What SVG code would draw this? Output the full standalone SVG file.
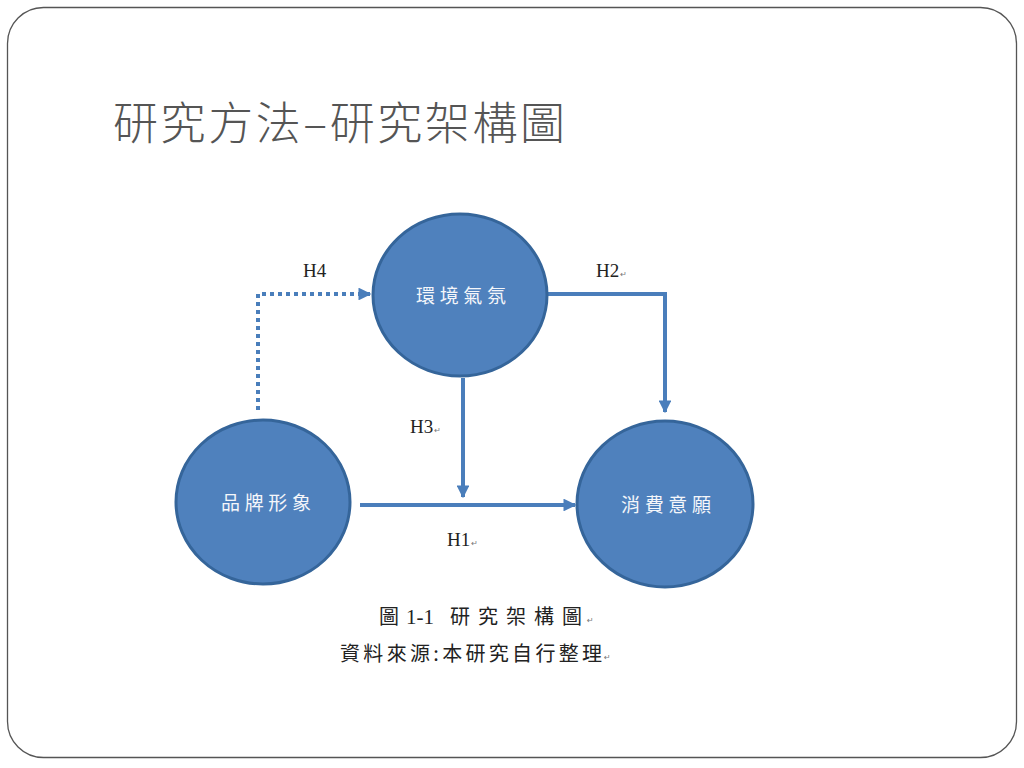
<svg xmlns="http://www.w3.org/2000/svg" width="1024" height="768" viewBox="0 0 1024 768">
<defs>
<style>
.node{fill:#4f81bd;stroke:#35659a;stroke-width:3}
.ntext{font-family:"Noto Sans CJK TC","Noto Sans CJK SC",sans-serif;font-size:19px;fill:#f4f6fa}
.conn{fill:none;stroke:#4a7ebb;stroke-width:4}
.dot{stroke-dasharray:4 4}
.lbl{font-family:"Liberation Serif",serif;font-size:19px;fill:#222}
.ret{font-family:"DejaVu Sans",sans-serif;font-size:8px;fill:#777}
.cap{font-family:"Noto Sans CJK TC","Noto Sans CJK SC",sans-serif;font-size:20px;fill:#222}
</style>
<marker id="ah" viewBox="0 0 10 10" refX="9" refY="5" markerWidth="3.2" markerHeight="3.2" orient="auto" markerUnits="strokeWidth">
<path d="M0,0 L10,5 L0,10 z" fill="#4a7ebb"/>
</marker>
</defs>
<rect x="0" y="0" width="1024" height="768" fill="#ffffff"/>
<rect x="7.5" y="7.5" width="1009" height="750" rx="36" ry="36" fill="#ffffff" stroke="#555" stroke-width="1.3"/>
<text x="113" y="140" font-family="Noto Sans CJK TC, Noto Sans CJK SC, sans-serif" font-size="45" font-weight="300" fill="#555" textLength="452" lengthAdjust="spacing">研究方法–研究架構圖</text>
<g id="connectors">
<path class="conn dot" d="M258,410 V294 H370" marker-end="url(#ah)"/>
<path class="conn" d="M548,294 H665 V412" marker-end="url(#ah)"/>
<path class="conn" d="M463,378 V497" marker-end="url(#ah)"/>
<path class="conn" d="M360,505 H575" marker-end="url(#ah)"/>
</g>
<g id="labels">
<text class="lbl" x="303" y="277">H4</text>
<text class="lbl" x="596" y="277">H2<tspan class="ret" dx="1">↵</tspan></text>
<text class="lbl" x="410" y="433">H3<tspan class="ret" dx="1">↵</tspan></text>
<text class="lbl" x="447" y="546">H1<tspan class="ret" dx="1">↵</tspan></text>
</g>
<g id="n-atmos">
<ellipse class="node" cx="460" cy="295" rx="87" ry="81"/>
<text class="ntext" x="416" y="303" textLength="90" lengthAdjust="spacing">環境氣氛</text>
</g>
<g id="n-brand">
<ellipse class="node" cx="263" cy="502" rx="87" ry="82"/>
<text class="ntext" x="221" y="510" textLength="90" lengthAdjust="spacing">品牌形象</text>
</g>
<g id="n-intent">
<ellipse class="node" cx="665" cy="504" rx="88" ry="83"/>
<text class="ntext" x="621" y="512" textLength="90" lengthAdjust="spacing">消費意願</text>
</g>
<g id="caption">
<text class="cap" x="379" y="624">圖 <tspan font-family="Liberation Serif, serif" font-size="21" x="406">1-1</tspan><tspan x="450" textLength="132" lengthAdjust="spacing">研究架構圖</tspan></text>
<text class="ret" x="587" y="623">↵</text>
<text class="cap" x="340" y="661" textLength="262" lengthAdjust="spacing">資料來源:本研究自行整理</text>
<text class="ret" x="604" y="660">↵</text>
</g>
</svg>
